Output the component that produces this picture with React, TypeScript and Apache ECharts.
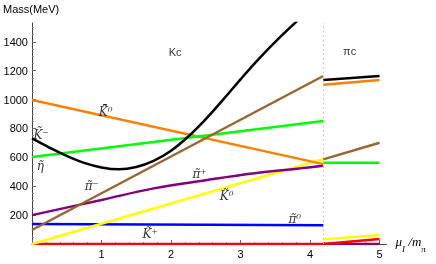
import React, { useEffect, useRef } from "react";
import * as echarts from "echarts";

// Kc phase (0 .. 4.19)
const boundaryX = 4.19;
const blackKc = [[0, 731], [0.25, 668], [0.5, 610], [0.75, 562], [1.0, 530], [1.25, 517], [1.5, 533], [1.75, 575], [2.0, 645], [2.25, 745], [2.5, 865], [2.75, 1000], [3.0, 1140], [3.25, 1275], [3.5, 1400], [3.85, 1560]];
const brownKc = [[0, 97], [boundaryX, 1163]];
const orangeKc = [[0, 997], [boundaryX, 553]];
const greenKc = [[0, 602], [boundaryX, 852]];
const purpleKc = [[0, 200], [1.0, 305], [1.75, 385], [2.5, 442], [3.2, 490], [3.87, 524], [boundaryX, 542]];
const yellowKc = [[0, 0], [boundaryX, 588]];
const blueKc = [[0, 138], [boundaryX, 130]];
const redKc = [[0, 0], [boundaryX, 0]];

// πc phase (4.19 .. 5)
const blackPc = [[boundaryX, 1135], [5, 1163]];
const orangePc = [[boundaryX, 1102], [5, 1135]];
const brownPc = [[boundaryX, 586], [5, 701]];
const greenPc = [[boundaryX, 563], [5, 563]];
const yellowPc = [[boundaryX, 32], [5, 62]];
const redPc = [[boundaryX, 0], [5, 35]];
const purplePc = [[boundaryX, 0], [5, 0]];

const xTicks = [1, 2, 3, 4, 5];
const yTicks = [200, 400, 600, 800, 1000, 1200, 1400];

const curveLabels = [
  { text: "K\u0304\u0303\u2070", x: 1.06, y: 913 },
  { text: "K\u0303\u207B", x: 0.13, y: 758 },
  { text: "\u03B7\u0303", x: 0.12, y: 540 },
  { text: "\u03C0\u0303\u207B", x: 0.86, y: 401 },
  { text: "\u03C0\u0303\u207A", x: 2.41, y: 484 },
  { text: "K\u0303\u2070", x: 2.8, y: 332 },
  { text: "\u03C0\u0303\u2070", x: 3.78, y: 173 },
  { text: "K\u0303\u207A", x: 1.7, y: 69 },
];
const phaseLabels = [
  { text: "Kc", x: 2.06, y: 1329 },
  { text: "\u03C0c", x: 4.57, y: 1336 },
];

export default function App() {
  const ref = useRef<HTMLDivElement>(null);
  useEffect(() => {
    if (!ref.current) return;
    const chart = echarts.init(ref.current, null, { renderer: "svg" });
    const line = (data: number[][], color: string, smooth: number | boolean = false, z = 2) => ({
      type: "line",
      data,
      smooth,
      showSymbol: false,
      symbol: "none",
      z,
      lineStyle: { color, width: 2.5 },
    });
    const axisText = { color: "#000", fontFamily: "Liberation Sans", fontSize: 11 };
    chart.setOption({
      animation: false,
      grid: { left: 29, top: 23, width: 357.5, height: 221 },
      xAxis: {
        type: "value",
        min: 0,
        max: 5.1,
        interval: 1,
        name: "{i|\u03BC}{s|I}{i| /m}{s|\u03C0}",
        nameLocation: "end",
        nameGap: 9,
        nameTextStyle: {
          color: "#000",
          verticalAlign: "middle",
          rich: {
            i: { fontFamily: "Liberation Serif", fontStyle: "italic", fontSize: 13, lineHeight: 18, verticalAlign: "top" },
            s: { fontFamily: "Liberation Serif", fontStyle: "italic", fontSize: 9, lineHeight: 18, verticalAlign: "bottom" },
          },
        },
        axisLine: { show: true, onZero: true, lineStyle: { color: "#444", width: 1 } },
        axisTick: { show: true, inside: true, length: 4, customValues: [0, 1, 2, 3, 4, 5], lineStyle: { color: "#666" } },
        minorTick: { show: true, splitNumber: 5, length: 2, lineStyle: { color: "#888" } },
        axisLabel: { ...axisText, margin: 4, customValues: xTicks, formatter: (v: number) => String(v) },
        splitLine: { show: false },
      },
      yAxis: {
        type: "value",
        min: 0,
        max: 1530,
        interval: 200,
        name: "Mass(MeV)",
        nameLocation: "end",
        nameGap: 9,
        nameTextStyle: { ...axisText, align: "left", padding: [0, 0, 0, -29] },
        axisLine: { show: true, onZero: true, lineStyle: { color: "#444", width: 1 } },
        axisTick: { show: true, inside: true, length: 4, customValues: [0, ...yTicks], lineStyle: { color: "#666" } },
        minorTick: { show: true, splitNumber: 4, length: 2, lineStyle: { color: "#888" } },
        axisLabel: { ...axisText, margin: 4, customValues: yTicks, formatter: (v: number) => String(v) },
        splitLine: { show: false },
      },
      series: [
        {
          ...line(redKc, "#ff0000", false, 2),
          markLine: {
            silent: true,
            symbol: "none",
            label: { show: false },
            lineStyle: { color: "#bbb", type: [1.5, 3], width: 1 },
            data: [{ xAxis: boundaryX }],
          },
        },
        line(purplePc, "#800080"),
        line(redPc, "#ff0000"),
        line(yellowPc, "#ffff00"),
        line(blueKc, "#0000ff"),
        line(yellowKc, "#ffff00"),
        line(purpleKc, "#800080", 0.4),
        line(orangeKc, "#ff8000"),
        line(greenKc, "#00ff00"),
        line(brownKc, "#996633"),
        line(blackKc, "#000000", 0.4),
        line(greenPc, "#00ff00"),
        line(brownPc, "#996633"),
        line(orangePc, "#ff8000"),
        line(blackPc, "#000000"),
        {
          type: "scatter",
          symbolSize: 1,
          itemStyle: { color: "transparent" },
          z: 5,
          data: curveLabels.map((l) => ({ value: [l.x, l.y], name: l.text })),
          label: {
            show: true,
            position: "inside",
            formatter: (p: any) => p.name,
            color: "#000",
            fontFamily: "DejaVu Serif",
            fontStyle: "italic",
            fontSize: 12,
          },
        },
        {
          type: "scatter",
          symbolSize: 1,
          itemStyle: { color: "transparent" },
          z: 5,
          data: phaseLabels.map((l) => ({ value: [l.x, l.y], name: l.text })),
          label: {
            show: true,
            position: "inside",
            formatter: (p: any) => p.name,
            color: "#000",
            fontFamily: "Liberation Sans",
            fontSize: 11,
          },
        },
      ],
    });
    return () => chart.dispose();
  }, []);
  return <div ref={ref} style={{ position: "fixed", left: 0, top: 0, width: 436, height: 264 }} />;
}
